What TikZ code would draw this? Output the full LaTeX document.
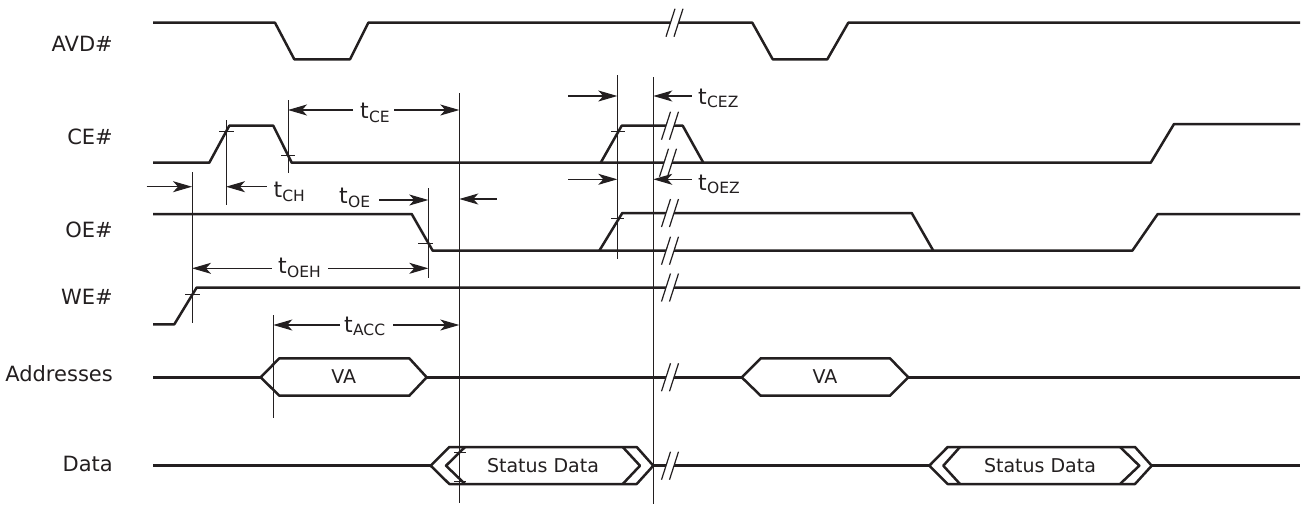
\documentclass[tikz,border=0pt]{standalone}
\usepackage{fontspec}
\setmainfont{DejaVu Sans}
\usetikzlibrary{arrows.meta}
\definecolor{ink}{RGB}{35,31,32}
\newcommand{\tsub}[2]{#1\kern0.3pt\raisebox{-3.5pt}{\fontsize{15.5}{15.5}\selectfont #2}}
\newcommand{\brkmark}[2]{%
  \fill[white] (#1-8.5,#2+14) -- (#1+0.5,#2-14) -- (#1+8.5,#2-14) -- (#1-0.5,#2+14) -- cycle;
  \draw[brk] (#1-8.5,#2+14) -- (#1+0.5,#2-14);
  \draw[brk] (#1-0.5,#2+14) -- (#1+8.5,#2-14);
}
\begin{document}
\begin{tikzpicture}[x=1pt,y=-1pt,
  sig/.style={draw=ink, line width=2.5pt, line join=round},
  boxsig/.style={draw=ink, line width=2.5pt, line join=round, fill=white},
  chev/.style={draw=ink, line width=2.5pt, line join=round},
  ref/.style={draw=ink, line width=1pt},
  tick/.style={draw=ink, line width=1pt},
  brk/.style={draw=ink, line width=1.2pt},
  dimr/.style={draw=ink, line width=1.1pt, -{Stealth[length=19pt,width=11pt,inset=5pt]}},
  sname/.style={font=\fontsize{21}{24}\selectfont, text=ink, anchor=base east, inner sep=0pt},
  tname/.style={font=\fontsize{22}{24}\selectfont, text=ink, anchor=base west, inner sep=0pt},
  bname/.style={font=\fontsize{19}{22}\selectfont, text=ink, inner sep=0pt}]
\useasboundingbox (0,0) rectangle (1303,504);
\fill[white] (0,0) rectangle (1303,504);

% signal names
\node[sname] (avd) at (113,51) {AVD\#};
\node[sname] (ce) at (113,144) {CE\#};
\node[sname] (oe) at (113,237) {OE\#};
\node[sname] (we) at (113,304) {WE\#};
\node[sname] (addr) at (113,381.7) {Addresses};
\node[sname] (data) at (113,471.7) {Data};

% AVD#
\draw[sig] (153,22.7) -- (275,22.7) -- (294.3,59.3) -- (350,59.3) -- (368.3,22.7) -- (752.3,22.7) -- (772.7,59.3) -- (827.3,59.3) -- (848.3,22.7) -- (1300,22.7);
% CE#
\draw[sig] (153,162.7) -- (209.3,162.7) -- (229.3,125.7) -- (273.3,125.7) -- (291.7,162.7) -- (1150.7,162.7) -- (1174,124) -- (1300,124);
\draw[sig] (600.7,162.7) -- (621.7,125.7) -- (682.7,125.7) -- (703.3,162.7);
% OE#
\draw[sig] (153,214) -- (411.7,214) -- (432.7,250.7) -- (1132.3,250.7) -- (1157.7,214) -- (1300,214);
\draw[sig] (599.3,250.7) -- (622.3,213) -- (911.7,213) -- (933.3,250.7);
% WE#
\draw[sig] (153,324.3) -- (174.3,324.3) -- (196.7,287.5) -- (1300,287.5);
% Addresses
\draw[sig] (153,377.3) -- (260.7,377.3);
\draw[sig] (426.7,377.3) -- (741.7,377.3);
\draw[sig] (908.3,377.3) -- (1300,377.3);
\draw[boxsig] (260.7,377.3) -- (279.3,358.3) -- (409.3,358.3) -- (426.7,377.3) -- (409.3,395.7) -- (279.3,395.7) -- cycle;
\draw[boxsig] (741.7,377.3) -- (760.7,358.3) -- (890,358.3) -- (908.3,377.3) -- (890,395.7) -- (760.7,395.7) -- cycle;
\node[bname] (va1) at (343.7,377) {VA};
\node[bname] (va2) at (825,377) {VA};
% Data
\draw[sig] (153,465.7) -- (430.7,465.7);
\draw[sig] (653.3,465.7) -- (929.3,465.7);
\draw[sig] (1151.7,465.7) -- (1300,465.7);
\draw[boxsig] (430.7,465.7) -- (449.3,447) -- (636.7,447) -- (653.3,465.7) -- (636.7,484) -- (449.3,484) -- cycle;
\draw[chev] (465,447) -- (446,465.7) -- (465,484);
\draw[chev] (622.7,447) -- (640,465.7) -- (622.7,484);
\draw[boxsig] (929.3,465.7) -- (947.7,447) -- (1135,447) -- (1151.7,465.7) -- (1135,484) -- (947.7,484) -- cycle;
\draw[chev] (960,447) -- (943.3,465.7) -- (960,484);
\draw[chev] (1120,447) -- (1139.3,465.7) -- (1120,484);
\node[bname] (sd1) at (543,465.7) {Status Data};
\node[bname] (sd2) at (1040,465.7) {Status Data};

% break marks
\brkmark{674.5}{22.7}
\brkmark{670}{125.7}
\brkmark{668}{162.7}
\brkmark{670}{213}
\brkmark{670}{250.7}
\brkmark{670}{287.5}
\brkmark{670}{377.3}
\brkmark{670}{465.7}

% reference lines
\coordinate (v1t) at (192,172);   \coordinate (v1b) at (192,323);
\coordinate (v2t) at (226,120);   \coordinate (v2b) at (226,205);
\coordinate (v3t) at (288,100);   \coordinate (v3b) at (288,173);
\coordinate (v4t) at (459.3,93);  \coordinate (v4b) at (459.3,503);
\coordinate (v5t) at (428.3,188); \coordinate (v5b) at (428.3,278);
\coordinate (v6t) at (273.3,315); \coordinate (v6b) at (273.3,418);
\coordinate (v7t) at (617.3,75);  \coordinate (v7b) at (617.3,259);
\coordinate (v8t) at (653.3,77);  \coordinate (v8b) at (653.3,504);
\foreach \v in {1,...,8} {\draw[ref] (v\v t) -- (v\v b);}

% ticks
\draw[tick] (219,131.7) -- (234,131.7);
\draw[tick] (281,155) -- (295,155);
\draw[tick] (185,294) -- (200,294);
\draw[tick] (418,243.3) -- (433,243.3);
\draw[tick] (611,131) -- (625,131);
\draw[tick] (611,218.3) -- (624,218.3);
\draw[tick] (454,452) -- (466,452);
\draw[tick] (454,481.7) -- (466,481.7);

% dimension arrows
\coordinate (ceL) at (353,110);     \coordinate (ceR) at (394,110);
\draw[dimr] (ceL) -- (v3t |- ceL);  \draw[dimr] (ceR) -- (v4t |- ceR);
\coordinate (a1) at (146.7,186.7);  \draw[dimr] (a1) -- (v1t |- a1);
\coordinate (ch) at (266.7,186.7);  \draw[dimr] (ch) -- (v2t |- ch);
\coordinate (oeA) at (379,200);     \draw[dimr] (oeA) -- (v5t |- oeA);
\coordinate (a2) at (496.7,199);    \draw[dimr] (a2) -- (v4t |- a2);
\coordinate (oehL) at (271.7,268.3);\coordinate (oehR) at (328,268.3);
\draw[dimr] (oehL) -- (v1t |- oehL); \draw[dimr] (oehR) -- (v5t |- oehR);
\coordinate (accL) at (340,325);    \coordinate (accR) at (393,325);
\draw[dimr] (accL) -- (v6t |- accL); \draw[dimr] (accR) -- (v4t |- accR);
\coordinate (cezL) at (568,96);     \coordinate (cezR) at (691.7,96);
\draw[dimr] (cezL) -- (v7t |- cezL); \draw[dimr] (cezR) -- (v8t |- cezR);
\coordinate (oezL) at (568,179.3);  \coordinate (oezR) at (691.7,179.3);
\draw[dimr] (oezL) -- (v7t |- oezL); \draw[dimr] (oezR) -- (v8t |- oezR);

% timing labels
\node[tname] (tce) at (360,118.7) {\tsub{t}{CE}};
\node[tname] (tch) at (273.3,197.7) {\tsub{t}{CH}};
\node[tname] (toe) at (339,203.7) {\tsub{t}{OE}};
\node[tname] (toeh) at (278,273.7) {\tsub{t}{OEH}};
\node[tname] (tacc) at (344,332) {\tsub{t}{ACC}};
\node[tname] (tcez) at (698,104.3) {\tsub{t}{CEZ}};
\node[tname] (toez) at (698,190.3) {\tsub{t}{OEZ}};
\end{tikzpicture}
\end{document}
